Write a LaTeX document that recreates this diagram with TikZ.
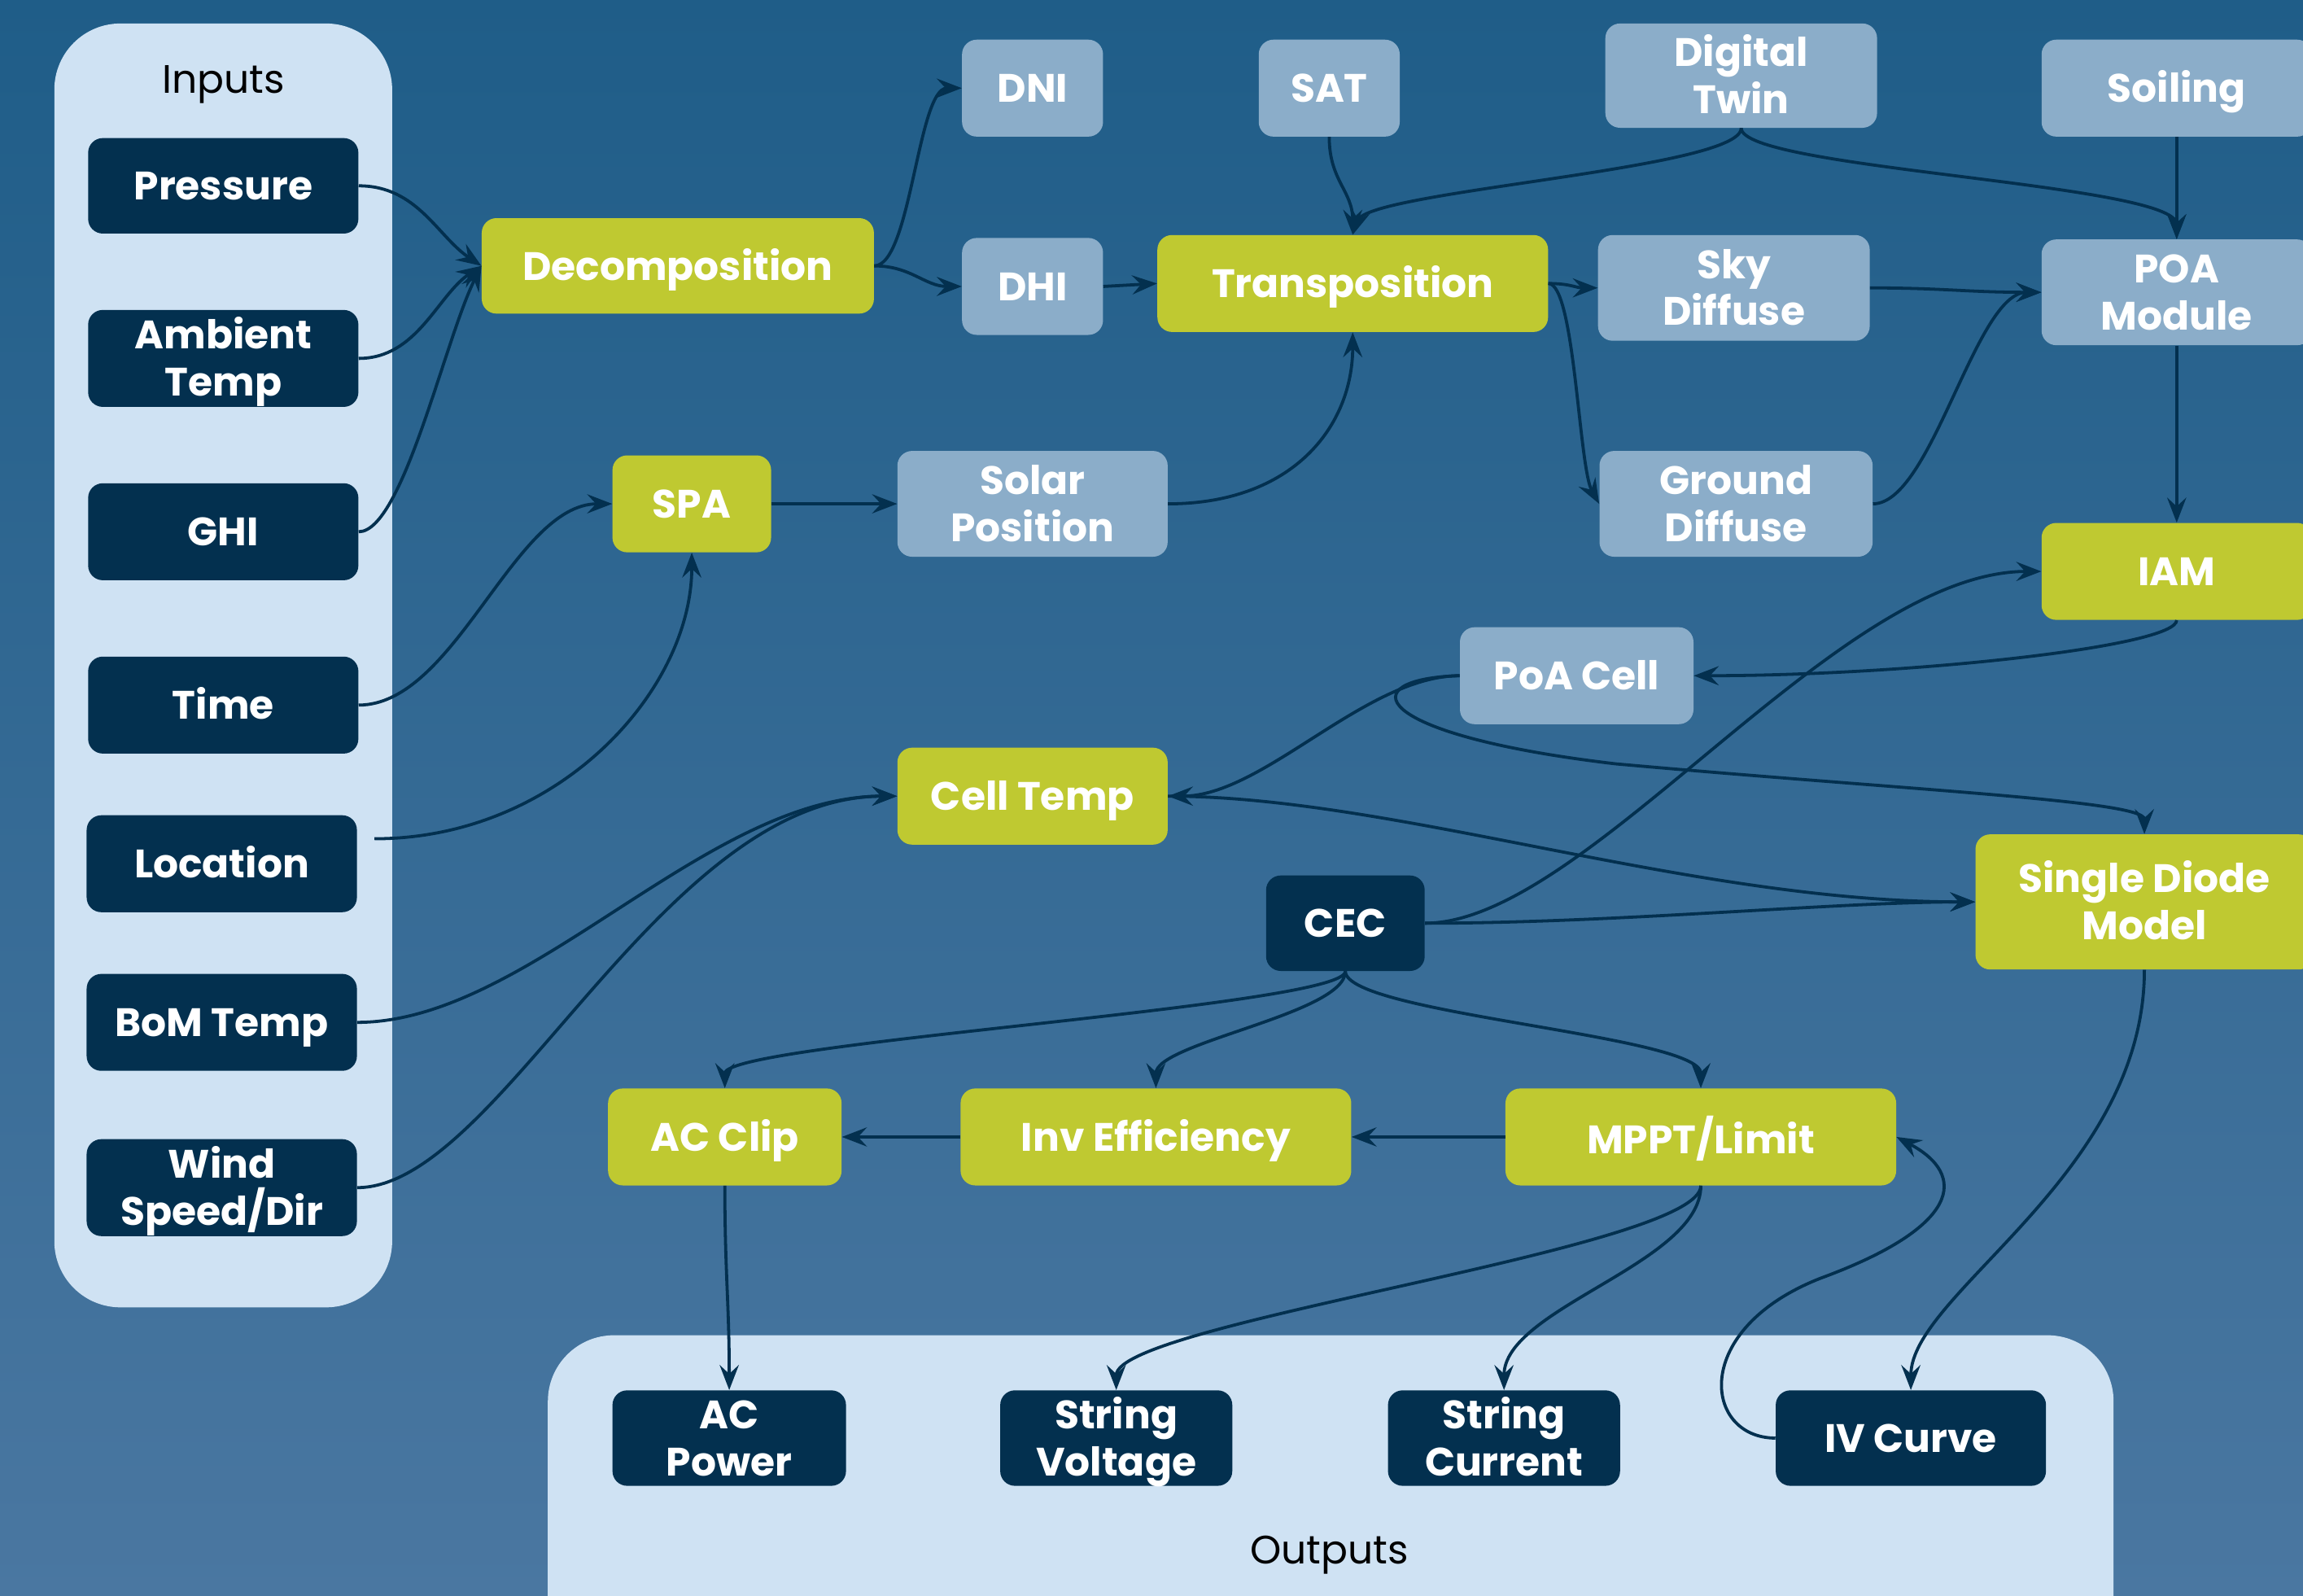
\documentclass[tikz,border=0pt]{standalone}
\usepackage{fontspec}
\setmainfont{Poppins}
\usetikzlibrary{arrows.meta}
\definecolor{bgtop}{HTML}{1F5D88}
\definecolor{bgbot}{HTML}{4A77A1}
\definecolor{navy}{HTML}{03304F}
\definecolor{lightbox}{HTML}{8BADC9}
\definecolor{greenbox}{HTML}{BFC931}
\definecolor{panel}{HTML}{CFE2F3}
\newcommand\bt[1]{\raisebox{-3.2pt}[\height][\depth]{\begin{tabular}{@{}c@{}}#1\end{tabular}}}
\begin{document}
\begin{tikzpicture}[x=1pt,y=-1pt,
  box/.style={rounded corners=10pt, inner sep=0pt, text=white,
    font=\fontsize{27}{32}\selectfont\bfseries},
  sz/.style 2 args={minimum width=#1pt, minimum height=#2pt},
  inbox/.style={box, fill=navy},
  lbox/.style={box, fill=lightbox},
  gbox/.style={box, fill=greenbox},
  conn/.style={draw=navy, line width=2.1pt, -{Stealth[length=17pt,width=13pt,inset=6pt]}},
  panelbox/.style={fill=panel, rounded corners=45pt},
  paneltitle/.style={font=\fontsize{27}{32}\selectfont, text=black, inner sep=0pt}
]
\useasboundingbox (0,0) rectangle (1568,1086);
\clip (0,0) rectangle (1568,1086);
\shade[top color=bgtop, bottom color=bgbot] (0,0) rectangle (1568,1086);

% panels
\fill[panelbox] (37,16) rectangle (267,890);
\fill[panelbox] (373,909) rectangle (1439,1140);
\node[paneltitle] (inputs) at (152,54) {\bt{Inputs}};
\node[paneltitle] (outputs) at (905,1055) {\bt{Outputs}};

% inputs
\node[inbox, sz={184}{65}] (pressure) at (152,126.5) {\bt{Pressure}};
\node[inbox, sz={184}{66}] (ambient) at (152,244) {\bt{Ambient\\Temp}};
\node[inbox, sz={184}{66}] (ghi) at (152,362) {\bt{GHI}};
\node[inbox, sz={184}{66}] (time) at (152,480) {\bt{Time}};
\node[inbox, sz={184}{66}] (location) at (151,588) {\bt{Location}};
\node[inbox, sz={184}{66}] (bom) at (151,696) {\bt{BoM Temp}};
\node[inbox, sz={184}{66}] (wind) at (151,808.5) {\bt{Wind\\\smash{Speed/Dir}}};
\coordinate (locout) at (255,571);

% middle
\node[gbox, sz={267}{65}] (decomp) at (461.5,181) {\bt{Decomposition}};
\node[lbox, sz={96}{66}] (dni) at (703,60) {\bt{DNI}};
\node[lbox, sz={96}{66}] (dhi) at (703,195) {\bt{DHI}};
\node[lbox, sz={96}{66}] (sat) at (905,60) {\bt{SAT}};
\node[lbox, sz={185}{71}] (twin) at (1185.5,51.5) {\bt{Digital\\Twin}};
\node[lbox, sz={184}{66}] (soiling) at (1482,60) {\bt{Soiling}};
\node[gbox, sz={266}{66}] (transp) at (921,193) {\bt{Transposition}};
\node[lbox, sz={185}{72}] (sky) at (1180.5,196) {\bt{Sky\\Diffuse}};
\node[lbox, sz={184}{72}] (poa) at (1482,199) {\bt{POA\\Module}};
\node[gbox, sz={108}{66}] (spa) at (471,343) {\bt{SPA}};
\node[lbox, sz={184}{72}] (solpos) at (703,343) {\bt{Solar\\Position}};
\node[lbox, sz={186}{72}] (ground) at (1182,343) {\bt{Ground\\Diffuse}};
\node[gbox, sz={184}{66}] (iam) at (1482,389) {\bt{IAM}};
\node[lbox, sz={159}{66}] (poacell) at (1073.5,460) {\bt{PoA Cell}};
\node[gbox, sz={184}{66}] (celltemp) at (703,542) {\bt{Cell Temp}};
\node[gbox, sz={230}{92}] (sdm) at (1460,614) {\bt{Single Diode\\Model}};
\node[inbox, sz={108}{65}] (cec) at (916,628.5) {\bt{CEC}};
\node[gbox, sz={159}{66}] (acclip) at (493.5,774) {\bt{AC Clip}};
\node[gbox, sz={266}{66}] (inveff) at (787,774) {\bt{Inv Efficiency}};
\node[gbox, sz={266}{66}] (mppt) at (1158,774) {\bt{MPPT/Limit}};

% outputs
\node[inbox, sz={159}{65}] (acpower) at (496.5,979) {\bt{AC\\Power}};
\node[inbox, sz={158}{65}] (svolt) at (760,979) {\bt{String\\Voltage}};
\node[inbox, sz={158}{65}] (scurr) at (1024,979) {\bt{String\\Current}};
\node[inbox, sz={184}{65}] (ivcurve) at (1301,979) {\bt{IV Curve}};

% connectors
\draw[conn] (pressure.east) .. controls +(40,0) and +(-30,-20) .. (decomp.west);
\draw[conn] (ambient.east) .. controls +(40,0) and +(-30,20) .. (decomp.west);
\draw[conn] (ghi.east) .. controls +(30,0) and +(-25,50) .. (decomp.west);
\draw[conn] (decomp.east) .. controls +(25,0) and +(-30,0) .. (dni.west);
\draw[conn] (decomp.east) .. controls +(25,0) and +(-25,0) .. (dhi.west);
\draw[conn] (dhi.east) -- (transp.west);
\draw[conn] (sat.south) .. controls +(0,30) and +(0,-30) .. (transp.north);
\draw[conn] (twin.south) .. controls +(0,28) and +(10,-30) .. (transp.north);
\draw[conn] (twin.south) .. controls +(0,28) and +(0,-38) .. (poa.north);
\draw[conn] (soiling.south) -- (poa.north);
\draw[conn] (transp.east) .. controls +(15,0) and +(-15,0) .. (sky.west);
\draw[conn] (transp.east) .. controls +(18,0) and +(-14,-25) .. (ground.west);
\draw[conn] (sky.east) .. controls +(50,0) and +(-50,0) .. (poa.west);
\draw[conn] (ground.east) .. controls +(40,0) and +(-45,0) .. (poa.west);
\draw[conn] (poa.south) -- (iam.north);
\draw[conn] (spa.east) -- (solpos.west);
\draw[conn] (solpos.east) .. controls +(85,0) and +(0,64) .. (transp.south);
\draw[conn] (time.east) .. controls +(66,0) and +(-67,0) .. (spa.west);
\draw[conn] (locout) .. controls +(125,0) and +(0,94) .. (spa.south);
\draw[conn] (iam.south) .. controls +(0,18) and +(147,0) .. (poacell.east);
\draw[conn] (poacell.west) .. controls +(-64,0) and +(65,0) .. (celltemp.east);
\draw[conn] (poacell.west) .. controls (920,462) and (930,500) .. (1100,520)
  .. controls (1300,538) and (1460,545) .. (sdm.north);
\draw[conn] (cec.east) .. controls +(110,0) and +(-140,0) .. (iam.west);
\draw[conn] (cec.east) .. controls +(130,0) and +(-95,0) .. (sdm.west);
\draw[conn] (celltemp.east) .. controls +(155,0) and +(-195,0) .. (sdm.west);
\draw[conn] (bom.east) .. controls +(117,0) and +(-131,0) .. (celltemp.west);
\draw[conn] (wind.east) .. controls +(97,0) and +(-161,0) .. (celltemp.west);
\draw[conn] (cec.south) .. controls +(0,24) and +(0,-31) .. (acclip.north);
\draw[conn] (cec.south) .. controls +(0,29) and +(0,-31) .. (inveff.north);
\draw[conn] (cec.south) .. controls +(0,29) and +(0,-36) .. (mppt.north);
\draw[conn] (mppt.west) -- (inveff.east);
\draw[conn] (inveff.west) -- (acclip.east);
\draw[conn] (acclip.south) .. controls +(0,60) and +(0,-60) .. (acpower.north);
\draw[conn] (mppt.south) .. controls +(0,43) and +(0,-46) .. (svolt.north);
\draw[conn] (mppt.south) .. controls +(0,53) and +(0,-56) .. (scurr.north);
\draw[conn] (ivcurve.west) .. controls (1160,979) and (1150,905) .. (1240,870)
  .. controls (1335,835) and (1340,800) .. (mppt.east);
\draw[conn] (sdm.south) .. controls +(0,140) and +(0,-66) .. (ivcurve.north);
\end{tikzpicture}
\end{document}
